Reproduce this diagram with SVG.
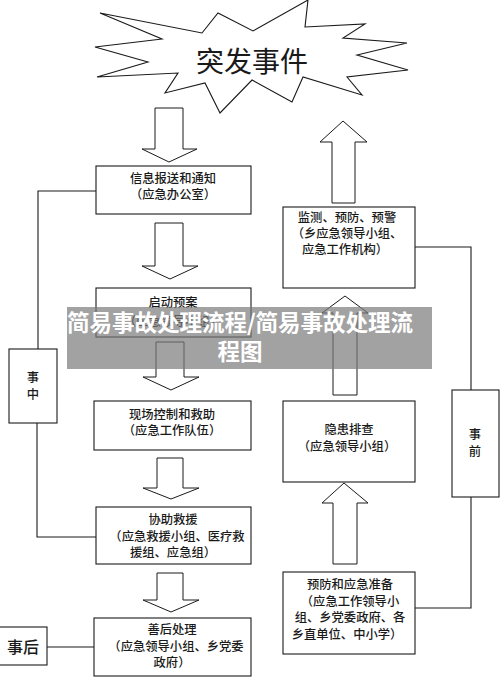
<svg xmlns="http://www.w3.org/2000/svg" width="500" height="677" viewBox="0 0 500 677">
<style>
.box{fill:#fff;stroke:#1a1a1a;stroke-width:1.1}
.arr{fill:#fff;stroke:#1a1a1a;stroke-width:1}
.ln{fill:none;stroke:#1a1a1a;stroke-width:1.1}
.t{font-family:"Noto Sans CJK SC","Noto Sans",sans-serif;font-size:12.3px;font-weight:500;fill:#1a1a1a;text-anchor:middle}
.big{font-size:28px;font-weight:400}
.mid{font-size:16px}
.ban{font-family:"Noto Sans CJK SC","Noto Sans",sans-serif;font-size:22.5px;font-weight:bold;fill:#fff;text-anchor:middle}
</style>
<rect width="500" height="677" fill="#fff"/>
<g id="event">
<polygon class="box" points="100,13 202,33 218,13 253,31 308,0 305,27 365,24 343,38 407,43 357,55 408,70 347,77 362,95 303,77 292,102 252,80 220,113 205,83 165,93 178,73 97,77 148,62 95,47 162,39"/>
<text class="t big" x="252" y="72">突发事件</text>
</g>
<g id="connectors">
<polygon class="arr" points="155,108 183,108 183,149 197,149 169,162 142,149 155,149"/>
<polygon class="arr" points="155,223 183,223 183,266 198,266 170,279 142,266 155,266"/>
<polygon class="arr" points="156,342 184,342 184,377 199,377 171,390 143,377 156,377"/>
<polygon class="arr" points="157,458 183,458 183,488 199,488 171,499 143,488 157,488"/>
<polygon class="arr" points="157,573 183,573 183,600 199,600 171,612 143,600 157,600"/>
<polygon class="arr" points="343,121 367,142 355,142 355,203 332,203 332,142 320,142"/>
<polygon class="arr" points="345,296 368,313 357,313 357,395 333,395 333,313 322,313"/>
<polygon class="arr" points="344,483 368,503 357,503 357,564 333,564 333,503 322,503"/>
<polyline class="ln" points="96,191 38,191 38,349"/>
<polyline class="ln" points="37,423 37,537 96,537"/>
<polyline class="ln" points="47,647 94,647"/>
<polyline class="ln" points="415,247 471,247 471,390"/>
<polyline class="ln" points="471,497 471,608 415,608"/>
</g>
<g id="n-info">
<rect class="box" x="96" y="166" width="155" height="48"/>
<text class="t" x="173" y="183">信息报送和通知</text>
<text class="t" x="173" y="199">（应急办公室）</text>
</g>
<g id="n-plan">
<rect class="box" x="96" y="288" width="155" height="49"/>
<text class="t" x="173" y="307">启动预案</text>
<text class="t" x="173" y="326">（应急领导小组）</text>
</g>
<g id="n-control">
<rect class="box" x="94" y="401" width="157" height="49"/>
<text class="t" x="172" y="419">现场控制和救助</text>
<text class="t" x="172" y="435">（应急工作队伍）</text>
</g>
<g id="n-rescue">
<rect class="box" x="96" y="507" width="155" height="57"/>
<text class="t" x="173" y="524">协助救援</text>
<text class="t" x="177" y="541">（应急救援小组、医疗救</text>
<text class="t" x="173" y="557">援组、应急组）</text>
</g>
<g id="n-after">
<rect class="box" x="94" y="618" width="157" height="58"/>
<text class="t" x="172" y="634">善后处理</text>
<text class="t" x="176" y="651">（应急领导小组、乡党委</text>
<text class="t" x="172" y="667">政府）</text>
</g>
<g id="n-during">
<rect class="box" x="9" y="349" width="48" height="74"/>
<text class="t" x="33" y="382">事</text>
<text class="t" x="33" y="399">中</text>
</g>
<g id="n-post">
<rect class="box" x="-1" y="627" width="48" height="38"/>
<text class="t mid" x="23" y="653">事后</text>
</g>
<g id="n-monitor">
<rect class="box" x="283" y="207" width="132" height="81"/>
<text class="t" x="347" y="222">监测、预防、预警</text>
<text class="t" x="347" y="238">（乡应急领导小组、</text>
<text class="t" x="345" y="254">应急工作机构）</text>
</g>
<g id="n-hazard">
<rect class="box" x="283" y="401" width="132" height="81"/>
<text class="t" x="349" y="434">隐患排查</text>
<text class="t" x="347" y="451">（应急领导小组）</text>
</g>
<g id="n-prep">
<rect class="box" x="283" y="572" width="132" height="82"/>
<text class="t" x="350" y="589">预防和应急准备</text>
<text class="t" x="350" y="606">（应急工作领导小</text>
<text class="t" x="350" y="622">组、乡党委政府、各</text>
<text class="t" x="347" y="639">乡直单位、中小学）</text>
</g>
<g id="n-before">
<rect class="box" x="452" y="390" width="47" height="107"/>
<text class="t" x="475" y="439">事</text>
<text class="t" x="475" y="456">前</text>
</g>
<g id="banner">
<rect x="67" y="307" width="365" height="62" fill="#7a7a7a" fill-opacity="0.7"/>
<text class="ban" x="240" y="331">简易事故处理流程/简易事故处理流</text>
<text class="ban" x="240" y="360">程图</text>
</g>
</svg>
